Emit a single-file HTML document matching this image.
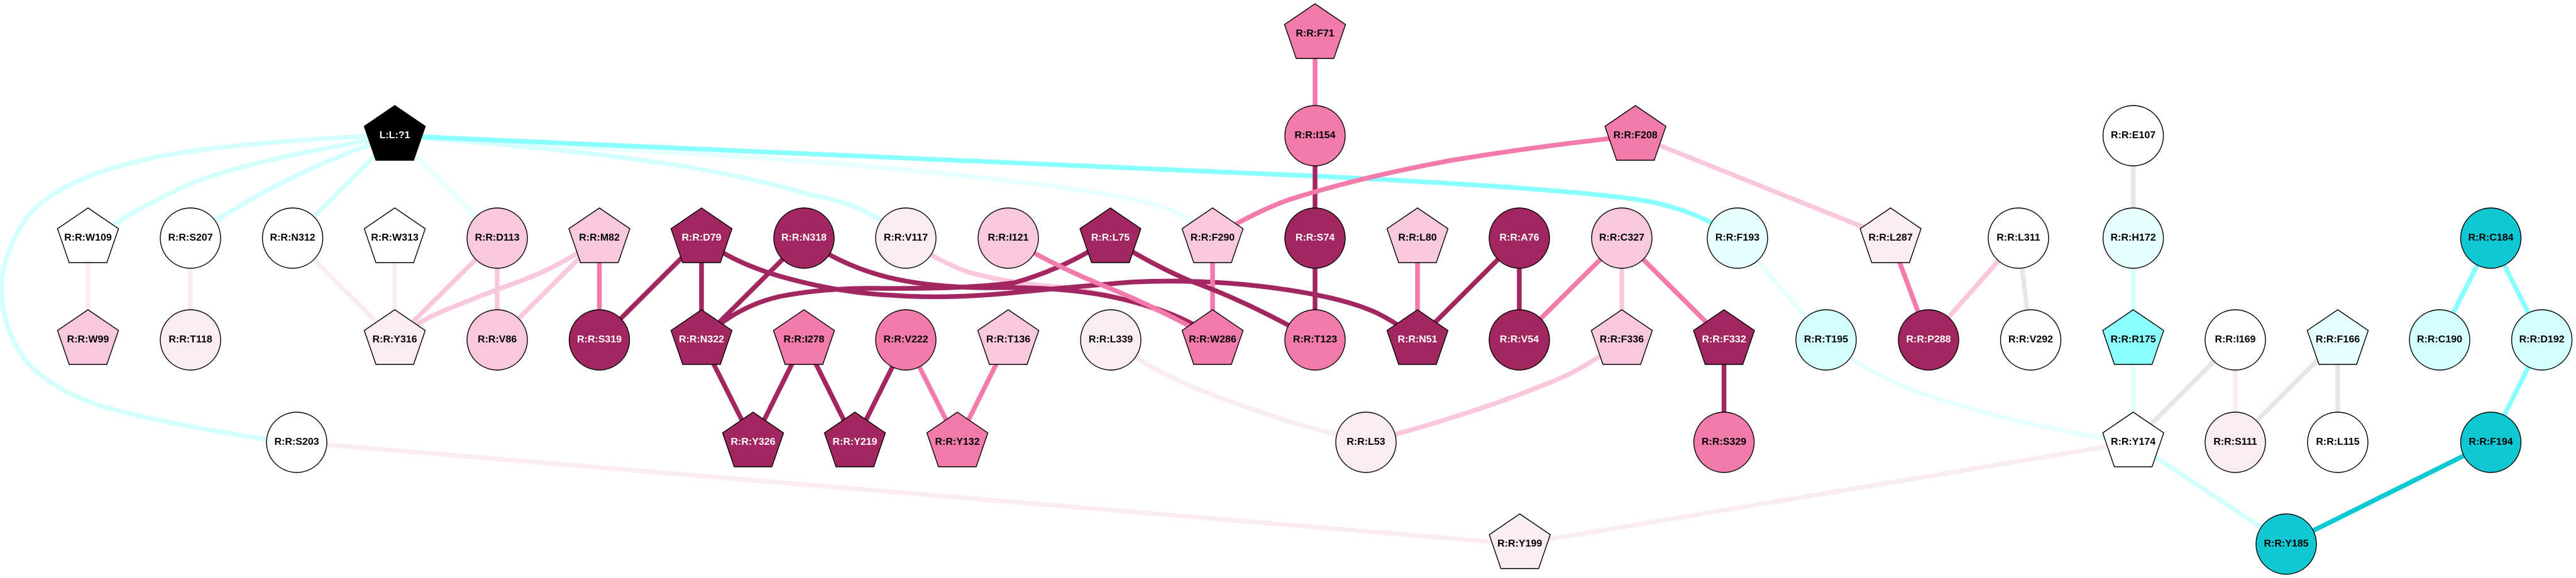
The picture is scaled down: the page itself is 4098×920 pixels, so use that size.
<!DOCTYPE html>
<html><head><meta charset="utf-8"><style>
html,body{margin:0;padding:0;background:#fff;width:4098px;height:920px;overflow:hidden}
svg{display:block}
.e path,.e line{fill:none;stroke-width:7.5}
.n polygon,.n circle{stroke:#000;stroke-width:1.4}
.n text{font:bold 16px "Liberation Sans",sans-serif;text-anchor:middle;fill:#000}
.n .w text{fill:#fff}
</style></head><body>
<svg width="4098" height="920" viewBox="0 0 4098 920" xmlns="http://www.w3.org/2000/svg">
<rect width="4098" height="920" fill="#fff"/>
<g class="e">
<g stroke="#fbecf3">
<line x1="140" y1="379" x2="140" y2="541"/>
<line x1="303" y1="379" x2="303" y2="541"/>
<line x1="465.5" y1="379" x2="628" y2="541"/>
<line x1="628" y1="379" x2="628" y2="541"/>
<line x1="472" y1="704" x2="2417.7" y2="866"/>
<line x1="3393.6" y1="704" x2="2417.7" y2="866"/>
<line x1="3556" y1="541" x2="3556" y2="704"/>
<path d="M1767 541Q1830 590 1920 625Q2050 675 2173 704"/>
</g>
<g stroke="#e6e6e6">
<line x1="3393.6" y1="216" x2="3393.6" y2="379"/>
<line x1="3211" y1="379" x2="3230.5" y2="541"/>
<line x1="3556" y1="541" x2="3393.6" y2="704"/>
<line x1="3719" y1="541" x2="3556" y2="704"/>
<line x1="3719" y1="541" x2="3719" y2="704"/>
</g>
<g stroke="#e8ffff">
<path d="M628 216L1191 250Q1500 272 1700 300Q1830 318 1870 337Q1900 352 1929 379"/>
<line x1="2764" y1="379" x2="2905" y2="541"/>
<path d="M2905 541Q2980 605 3100 640Q3250 685 3394 704"/>
<line x1="3393.6" y1="541" x2="3393.6" y2="704"/>
<line x1="628" y1="216" x2="791" y2="379"/>
</g>
<g stroke="#d4ffff">
<path d="M628 214Q400 226 295.5 242Q191 258 124.5 288Q58 318 35 357Q12 396 5.5 429Q-1 462 6.5 498.5Q14 535 37 568.5Q60 602 125.5 633Q191 664 472 707"/>
<path d="M628 216Q383 258 303 292.5Q223 327 140 385"/>
<path d="M628 216Q440 280 303 379"/>
<line x1="628" y1="216" x2="465.5" y2="379"/>
<path d="M628 216Q900 236 1070 262Q1191 281 1290 310Q1380 325 1441 379"/>
<line x1="3393.6" y1="379" x2="3393.6" y2="541"/>
<line x1="3393.6" y1="704" x2="3637" y2="866"/>
</g>
<path stroke="#8affff" d="M628 216L2087 280Q2500 300 2620 320Q2700 335 2764 379"/>
<g stroke="#8affff">
<line x1="3962.5" y1="379" x2="3881" y2="541"/>
<line x1="3962.5" y1="379" x2="4043.6" y2="541"/>
<line x1="4043.6" y1="541" x2="3962.5" y2="704"/>
</g>
<line stroke="#10c8d4" x1="3962.5" y1="704" x2="3637" y2="866"/>
<g stroke="#f9c7de">
<line x1="791" y1="379" x2="628" y2="541"/>
<line x1="791" y1="379" x2="791" y2="541"/>
<line x1="953.5" y1="379" x2="791" y2="541"/>
<path d="M953 379Q900 420 829 447Q760 472 700 497Q660 515 628 541"/>
<path d="M1441 379Q1490 415 1540 433Q1600 450 1686 457Q1780 468 1850 498Q1900 520 1929 541"/>
<line x1="2580" y1="379" x2="2580" y2="541"/>
<path d="M2580 541Q2520 590 2450 615Q2340 660 2173 704"/>
<line x1="2601.7" y1="216" x2="3007.6" y2="379"/>
<line x1="3211" y1="379" x2="3068" y2="541"/>
</g>
<g stroke="#a2265f">
<line x1="1116" y1="379" x2="953.5" y2="541"/>
<line x1="1116" y1="379" x2="1116" y2="541"/>
<line x1="1279" y1="379" x2="1116" y2="541"/>
<line x1="1116" y1="541" x2="1198" y2="704"/>
<line x1="1279" y1="541" x2="1198" y2="704"/>
<line x1="1279" y1="541" x2="1360" y2="704"/>
<line x1="1441" y1="541" x2="1360" y2="704"/>
<line x1="2092" y1="216" x2="2092" y2="379"/>
<line x1="2092" y1="379" x2="2092" y2="541"/>
<line x1="2417" y1="379" x2="2255" y2="541"/>
<line x1="2417" y1="379" x2="2417" y2="541"/>
<line x1="2742.6" y1="541" x2="2742.6" y2="704"/>
<path d="M1116 379Q1160 415 1235 438Q1330 466 1420 470Q1500 476 1600 467Q1700 457 1800 449Q1900 444 2000 455Q2130 470 2190 498Q2225 515 2255 541"/>
<path d="M1279 379Q1330 418 1400 438Q1470 458 1580 458Q1680 456 1757 470Q1840 486 1896 515Q1915 528 1929 541"/>
<path d="M1766 379Q1700 425 1614 450Q1540 460 1400 459Q1310 458 1240 472Q1170 488 1116 541"/>
</g>
<g stroke="#f27bab">
<line x1="953.5" y1="379" x2="953.5" y2="541"/>
<path d="M1604 379Q1680 425 1766 459Q1860 498 1929 541"/>
<line x1="1929" y1="379" x2="1929" y2="541"/>
<line x1="1441" y1="541" x2="1523" y2="704"/>
<line x1="1604" y1="541" x2="1523" y2="704"/>
<line x1="2092" y1="54" x2="2092" y2="216"/>
<path d="M2602 216Q2450 232 2310 255Q2163 282 2050 318Q1990 340 1929 379"/>
<line x1="2255" y1="379" x2="2255" y2="541"/>
<line x1="2580" y1="379" x2="2417" y2="541"/>
<line x1="2580" y1="379" x2="2742.6" y2="541"/>
<line x1="3007.6" y1="379" x2="3068" y2="541"/>
</g>
<path stroke="#a2265f" d="M1766 379Q1830 420 1893 447Q1985 480 2092 541"/>
</g>
<g class="n">
<g transform="translate(628,216)" class="w"><polygon fill="#000" points="0,-48 48.5,-15 30,39 -30,39 -48.5,-15"/><text y="4">L:L:?1</text></g>
<g transform="translate(140,379)"><polygon fill="#fff" points="0,-48 48.5,-15 30,39 -30,39 -48.5,-15"/><text y="4">R:R:W109</text></g>
<g transform="translate(303,379)"><circle r="48" fill="#fff"/><text y="4">R:R:S207</text></g>
<g transform="translate(465.5,379)"><circle r="48" fill="#fff"/><text y="4">R:R:N312</text></g>
<g transform="translate(628,379)"><polygon fill="#fff" points="0,-48 48.5,-15 30,39 -30,39 -48.5,-15"/><text y="4">R:R:W313</text></g>
<g transform="translate(791,379)"><circle r="48" fill="#f9c7de"/><text y="4">R:R:D113</text></g>
<g transform="translate(953.5,379)"><polygon fill="#f9c7de" points="0,-48 48.5,-15 30,39 -30,39 -48.5,-15"/><text y="4">R:R:M82</text></g>
<g transform="translate(1116,379)" class="w"><polygon fill="#a2265f" points="0,-48 48.5,-15 30,39 -30,39 -48.5,-15"/><text y="4">R:R:D79</text></g>
<g transform="translate(1279,379)" class="w"><circle r="48" fill="#a2265f"/><text y="4">R:R:N318</text></g>
<g transform="translate(1441,379)"><circle r="48" fill="#fbecf3"/><text y="4">R:R:V117</text></g>
<g transform="translate(1604,379)"><circle r="48" fill="#f9c7de"/><text y="4">R:R:I121</text></g>
<g transform="translate(1766.5,379)" class="w"><polygon fill="#a2265f" points="0,-48 48.5,-15 30,39 -30,39 -48.5,-15"/><text y="4">R:R:L75</text></g>
<g transform="translate(1929,379)"><polygon fill="#f9c7de" points="0,-48 48.5,-15 30,39 -30,39 -48.5,-15"/><text y="4">R:R:F290</text></g>
<g transform="translate(2092,379)" class="w"><circle r="48" fill="#a2265f"/><text y="4">R:R:S74</text></g>
<g transform="translate(2255,379)"><polygon fill="#f9c7de" points="0,-48 48.5,-15 30,39 -30,39 -48.5,-15"/><text y="4">R:R:L80</text></g>
<g transform="translate(2417,379)" class="w"><circle r="48" fill="#a2265f"/><text y="4">R:R:A76</text></g>
<g transform="translate(2580,379)"><circle r="48" fill="#f9c7de"/><text y="4">R:R:C327</text></g>
<g transform="translate(2764,379)"><circle r="48" fill="#e8ffff"/><text y="4">R:R:F193</text></g>
<g transform="translate(3007.6,379)"><polygon fill="#fbecf3" points="0,-48 48.5,-15 30,39 -30,39 -48.5,-15"/><text y="4">R:R:L287</text></g>
<g transform="translate(3211,379)"><circle r="48" fill="#fff"/><text y="4">R:R:L311</text></g>
<g transform="translate(3393.6,379)"><circle r="48" fill="#e8ffff"/><text y="4">R:R:H172</text></g>
<g transform="translate(3962.5,379)"><circle r="48" fill="#10c8d4"/><text y="4">R:R:C184</text></g>
<g transform="translate(2092,54)"><polygon fill="#f27bab" points="0,-48 48.5,-15 30,39 -30,39 -48.5,-15"/><text y="4">R:R:F71</text></g>
<g transform="translate(2092,216)"><circle r="48" fill="#f27bab"/><text y="4">R:R:I154</text></g>
<g transform="translate(2601.7,216)"><polygon fill="#f27bab" points="0,-48 48.5,-15 30,39 -30,39 -48.5,-15"/><text y="4">R:R:F208</text></g>
<g transform="translate(3393.6,216)"><circle r="48" fill="#fff"/><text y="4">R:R:E107</text></g>
<g transform="translate(140,541)"><polygon fill="#f9c7de" points="0,-48 48.5,-15 30,39 -30,39 -48.5,-15"/><text y="4">R:R:W99</text></g>
<g transform="translate(303,541)"><circle r="48" fill="#fbecf3"/><text y="4">R:R:T118</text></g>
<g transform="translate(628,541)"><polygon fill="#fbecf3" points="0,-48 48.5,-15 30,39 -30,39 -48.5,-15"/><text y="4">R:R:Y316</text></g>
<g transform="translate(791,541)"><circle r="48" fill="#f9c7de"/><text y="4">R:R:V86</text></g>
<g transform="translate(953.5,541)" class="w"><circle r="48" fill="#a2265f"/><text y="4">R:R:S319</text></g>
<g transform="translate(1116,541)" class="w"><polygon fill="#a2265f" points="0,-48 48.5,-15 30,39 -30,39 -48.5,-15"/><text y="4">R:R:N322</text></g>
<g transform="translate(1279,541)"><polygon fill="#f27bab" points="0,-48 48.5,-15 30,39 -30,39 -48.5,-15"/><text y="4">R:R:I278</text></g>
<g transform="translate(1441,541)"><circle r="48" fill="#f27bab"/><text y="4">R:R:V222</text></g>
<g transform="translate(1604,541)"><polygon fill="#f9c7de" points="0,-48 48.5,-15 30,39 -30,39 -48.5,-15"/><text y="4">R:R:T136</text></g>
<g transform="translate(1767,541)"><circle r="48" fill="#fbecf3"/><text y="4">R:R:L339</text></g>
<g transform="translate(1929,541)"><polygon fill="#f27bab" points="0,-48 48.5,-15 30,39 -30,39 -48.5,-15"/><text y="4">R:R:W286</text></g>
<g transform="translate(2092,541)"><circle r="48" fill="#f27bab"/><text y="4">R:R:T123</text></g>
<g transform="translate(2255,541)" class="w"><polygon fill="#a2265f" points="0,-48 48.5,-15 30,39 -30,39 -48.5,-15"/><text y="4">R:R:N51</text></g>
<g transform="translate(2417,541)" class="w"><circle r="48" fill="#a2265f"/><text y="4">R:R:V54</text></g>
<g transform="translate(2580,541)"><polygon fill="#f9c7de" points="0,-48 48.5,-15 30,39 -30,39 -48.5,-15"/><text y="4">R:R:F336</text></g>
<g transform="translate(2742.6,541)" class="w"><polygon fill="#a2265f" points="0,-48 48.5,-15 30,39 -30,39 -48.5,-15"/><text y="4">R:R:F332</text></g>
<g transform="translate(2905,541)"><circle r="48" fill="#d4ffff"/><text y="4">R:R:T195</text></g>
<g transform="translate(3068,541)" class="w"><circle r="48" fill="#a2265f"/><text y="4">R:R:P288</text></g>
<g transform="translate(3230.5,541)"><circle r="48" fill="#fff"/><text y="4">R:R:V292</text></g>
<g transform="translate(3393.6,541)"><polygon fill="#8affff" points="0,-48 48.5,-15 30,39 -30,39 -48.5,-15"/><text y="4">R:R:R175</text></g>
<g transform="translate(3556,541)"><circle r="48" fill="#fff"/><text y="4">R:R:I169</text></g>
<g transform="translate(3719,541)"><polygon fill="#e8ffff" points="0,-48 48.5,-15 30,39 -30,39 -48.5,-15"/><text y="4">R:R:F166</text></g>
<g transform="translate(3881,541)"><circle r="48" fill="#d4ffff"/><text y="4">R:R:C190</text></g>
<g transform="translate(4043.6,541)"><circle r="48" fill="#d4ffff"/><text y="4">R:R:D192</text></g>
<g transform="translate(472,704)"><circle r="48" fill="#fff"/><text y="4">R:R:S203</text></g>
<g transform="translate(1198,704)" class="w"><polygon fill="#a2265f" points="0,-48 48.5,-15 30,39 -30,39 -48.5,-15"/><text y="4">R:R:Y326</text></g>
<g transform="translate(1360,704)" class="w"><polygon fill="#a2265f" points="0,-48 48.5,-15 30,39 -30,39 -48.5,-15"/><text y="4">R:R:Y219</text></g>
<g transform="translate(1523,704)"><polygon fill="#f27bab" points="0,-48 48.5,-15 30,39 -30,39 -48.5,-15"/><text y="4">R:R:Y132</text></g>
<g transform="translate(2173,704)"><circle r="48" fill="#fbecf3"/><text y="4">R:R:L53</text></g>
<g transform="translate(2742.6,704)"><circle r="48" fill="#f27bab"/><text y="4">R:R:S329</text></g>
<g transform="translate(3393.6,704)"><polygon fill="#fff" points="0,-48 48.5,-15 30,39 -30,39 -48.5,-15"/><text y="4">R:R:Y174</text></g>
<g transform="translate(3556,704)"><circle r="48" fill="#fbecf3"/><text y="4">R:R:S111</text></g>
<g transform="translate(3719,704)"><circle r="48" fill="#fff"/><text y="4">R:R:L115</text></g>
<g transform="translate(3962.5,704)"><circle r="48" fill="#10c8d4"/><text y="4">R:R:F194</text></g>
<g transform="translate(2417.7,866)"><polygon fill="#fbecf3" points="0,-48 48.5,-15 30,39 -30,39 -48.5,-15"/><text y="4">R:R:Y199</text></g>
<g transform="translate(3637,866)"><circle r="48" fill="#10c8d4"/><text y="4">R:R:Y185</text></g>
</g>
</svg>
</body></html>
